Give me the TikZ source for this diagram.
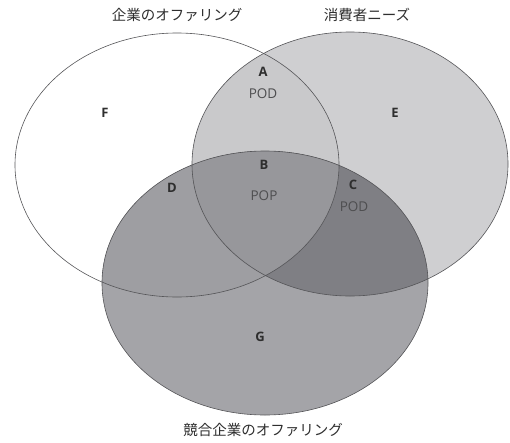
\documentclass[tikz,border=0pt]{standalone}
\usepackage{fontspec}
\setmainfont{Open Sans}
\newfontfamily\jpfont{Noto Sans CJK JP}
\definecolor{lineC}{HTML}{555558}
\definecolor{rightF}{HTML}{CFCFD1}
\definecolor{botF}{HTML}{A4A4A8}
\definecolor{lrF}{HTML}{C9C9CB}
\definecolor{lbF}{HTML}{9E9EA2}
\definecolor{rbF}{HTML}{7F7F84}
\definecolor{allF}{HTML}{97979B}
\definecolor{txtC}{HTML}{2E2E2E}
\definecolor{podC}{HTML}{4E4E50}
\begin{document}
\begin{tikzpicture}[x=1pt,y=-1pt,
  setname/.style={font=\jpfont\fontsize{14.5}{16}\selectfont, text=txtC, inner sep=0pt},
  letter/.style={font=\bfseries\fontsize{13}{15}\selectfont, text=txtC, inner sep=0pt},
  tag/.style={font=\fontsize{13.5}{15}\selectfont, text=podC, inner sep=0pt},
  outline/.style={draw=lineC, line width=0.6pt}]
\useasboundingbox (0,0) rectangle (510,442);
\def\Lell{(177,165) ellipse [x radius=162, y radius=132]}
\def\Rell{(350,164) ellipse [x radius=158, y radius=132]}
\def\Bell{(265,283) ellipse [x radius=163, y radius=132]}
% fills
\fill[rightF] \Rell;
\fill[botF] \Bell;
\begin{scope}
  \clip \Lell;
  \fill[lrF] \Rell;
  \fill[lbF] \Bell;
\end{scope}
\begin{scope}
  \clip \Rell;
  \fill[rbF] \Bell;
  \clip \Lell;
  \fill[allF] \Bell;
\end{scope}
% outlines
\draw[outline] \Lell;
\draw[outline] \Rell;
\draw[outline] \Bell;
% set names
\node[setname] (nL) at (177,15) {企業のオファリング};
\node[setname] (nR) at (367,15) {消費者ニーズ};
\node[setname] (nB) at (263,430) {競合企業のオファリング};
% region labels
\node[letter] (A) at (263,72) {A};
\node[tag] (Apod) at (263,94) {POD};
\node[letter] (F) at (105,113) {F};
\node[letter] (E) at (395,113) {E};
\node[letter] (B) at (264,165) {B};
\node[tag] (Bpop) at (264,196) {POP};
\node[letter] (D) at (172,188) {D};
\node[letter] (C) at (353,185) {C};
\node[tag] (Cpod) at (354,207) {POD};
\node[letter] (G) at (260,337) {G};
\end{tikzpicture}
\end{document}
